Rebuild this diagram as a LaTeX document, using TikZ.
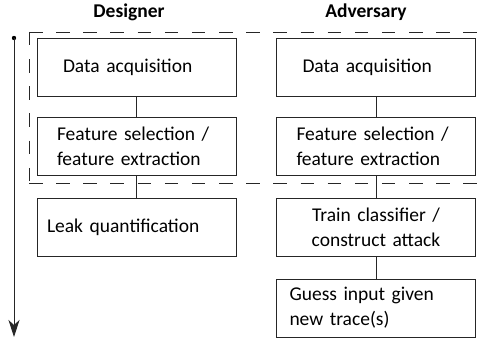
\documentclass[tikz,border=0pt]{standalone}
\usepackage{fontspec}
\setmainfont{Carlito}
\usetikzlibrary{arrows.meta}
\tikzset{
  box/.style={draw=black!85, line width=0.9pt, minimum height=58pt,
    text width=#1, align=left, inner ysep=0pt,
    font=\fontsize{19.5}{25}\selectfont},
  boxc/.style={draw=black!85, line width=0.9pt, minimum height=58pt,
    text width=185pt, inner xsep=7pt, align=center, inner ysep=0pt,
    font=\fontsize{19.5}{25}\selectfont},
  head/.style={font=\fontsize{19.5}{24}\selectfont\bfseries, inner sep=0pt},
  link/.style={draw=black!85, line width=0.9pt},
  region/.style={draw=black!85, line width=0.9pt, dash pattern=on 13.5pt off 13.65pt},
  timeline/.style={draw=black!85, line width=0.9pt, -{Stealth[length=17pt,width=11pt,inset=5pt]}}
}
\begin{document}
\begin{tikzpicture}[x=1pt,y=-1pt]
\useasboundingbox (0,0) rectangle (478,339);
% headings
\node[head] (hd) at (129,12.5) {Designer};
\node[head] (ha) at (366,12.5) {Adversary};
% designer column
\node[box=147pt, inner xsep=26pt] (d1) at (136.5,67) {Data acquisition};
\node[box=159pt, inner xsep=20pt] (d2) at (136.5,146.5) {Feature selection /\\feature extraction};
\node[box=179pt, inner xsep=10pt] (d3) at (136.5,227) {Leak quantification};
% adversary column
\node[box=147pt, inner xsep=26pt] (a1) at (376,67) {Data acquisition};
\node[box=159pt, inner xsep=20pt] (a2) at (376,146.5) {Feature selection /\\feature extraction};
\node[boxc] (a3) at (376,227) {Train classifier /\\construct attack};
\node[box=173pt, inner xsep=13pt] (a4) at (376,308) {Guess input given\\new trace(s)};
% connectors
\path[link] (d1.south) -- (d2.north);
\path[link] (d2.south) -- (d3.north);
\path[link] (a1.south) -- (a2.north);
\path[link] (a2.south) -- (a3.north);
\path[link] (a3.south) -- (a4.north);
% dashed region
\coordinate (rc) at (29,32);
\coordinate (rtr) at (478,32);
\coordinate (rbl) at (29,183);
\coordinate (rbr) at (478,183);
\path[region] (rc) -- (rtr);
\path[region] (rc) -- (rbl);
\path[region] (rbl) -- (rbr);
% timeline
\coordinate (ts) at (14,38);
\coordinate (te) at (14,337);
\fill[black] (ts) circle (2.2pt);
\path[timeline] (ts) -- (te);
\end{tikzpicture}
\end{document}
